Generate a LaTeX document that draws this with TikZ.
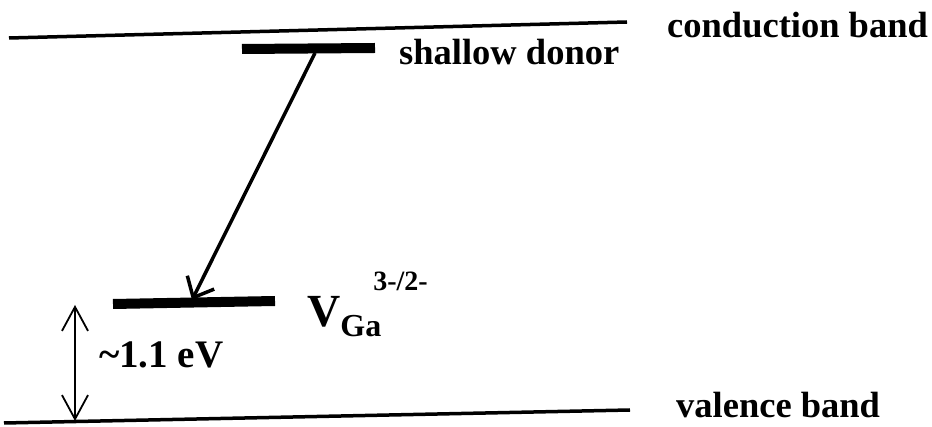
\documentclass[tikz,border=0pt]{standalone}
\usepackage{fontspec}
\setmainfont{Liberation Serif}
\usetikzlibrary{arrows.meta}
\begin{document}
\begin{tikzpicture}[x=1pt,y=-1pt,
  band/.style={line width=3.5pt},
  level/.style={line width=10pt},
  lbl/.style={anchor=base west,inner sep=0pt,font=\fontsize{36.5}{36.5}\selectfont\bfseries},
  trans/.style={line width=3.5pt,-{Straight Barb[length=17pt,width=30pt,line width=3.5pt]}},
  gap/.style={line width=1.8pt,{Straight Barb[length=24pt,width=26pt,line width=1.8pt]}-{Straight Barb[length=24pt,width=26pt,line width=1.8pt]}}]
\useasboundingbox (0,0) rectangle (932,427);
% bands
\coordinate (cbL) at (9,38);
\coordinate (cbR) at (627,22);
\coordinate (vbL) at (4,423);
\coordinate (vbR) at (630,410);
\draw[band] (cbL) -- (cbR);
\draw[band] (vbL) -- (vbR);
% levels
\coordinate (sdL) at (242,49);
\coordinate (sdR) at (375,48);
\coordinate (vgL) at (113,304);
\coordinate (vgR) at (275,301);
\draw[level] (sdL) -- (sdR);
\draw[level] (vgL) -- (vgR);
% transition
\coordinate (tS) at (315,53);
\coordinate (tE) at (192,300);
\draw[trans] (tS) -- (tE);
% energy gap
\coordinate (gT) at (75,305);
\coordinate (gB) at (75,421);
\draw[gap] (gT) -- (gB);
% labels
\node[lbl] (cbt) at (667,38) {conduction band};
\node[lbl] (sdt) at (399,65) {shallow donor};
\node[lbl] (vbt) at (676,418) {valence band};
\node[lbl,font=\fontsize{39}{39}\selectfont\bfseries] (ev) at (99,368) {\textasciitilde1.1 eV};
\node[lbl,font=\fontsize{46}{46}\selectfont\bfseries] (vga) at (307,327)
  {V\raisebox{-10pt}{\fontsize{32}{32}\selectfont Ga}\kern-8pt\raisebox{36pt}{\fontsize{28}{28}\selectfont 3-/2-}};
\end{tikzpicture}
\end{document}
